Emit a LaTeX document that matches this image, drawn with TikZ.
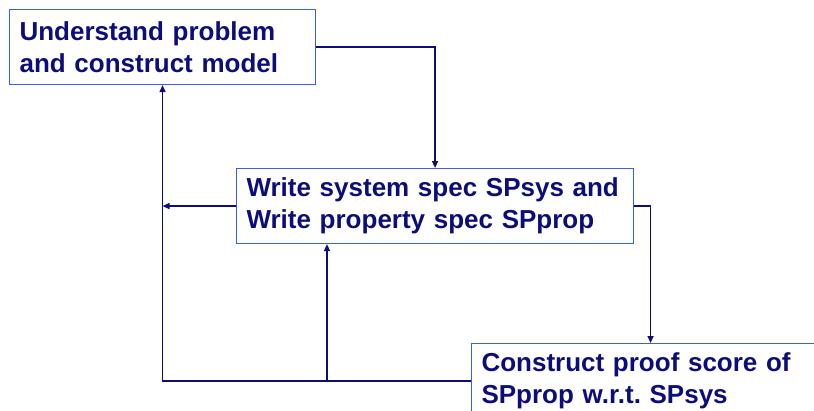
\documentclass[tikz,border=0pt]{standalone}
\usepackage{fontspec}
\setmainfont{Liberation Sans}
\usetikzlibrary{arrows.meta}
\definecolor{navy}{HTML}{0C0C7A}
\definecolor{boxblue}{HTML}{3A5CF0}
\frenchspacing
\begin{document}
\begin{tikzpicture}[x=1pt,y=-1pt,
  stepbox/.style={draw=boxblue,line width=1.1pt,anchor=north west,inner xsep=10pt,inner ysep=0pt,
    minimum height=75pt,align=left,text=navy,
    font=\fontsize{26}{32}\selectfont\bfseries},
  conn/.style={draw=navy,line width=1.4pt},
  arr/.style={conn,-{Triangle[length=7pt,width=6pt]}}]
\useasboundingbox (0,0) rectangle (814,410);
\clip (0,0) rectangle (814,410);
\node[stepbox,minimum width=306pt,text width=286pt] (b1) at (9,9) {Understand problem\\and construct model};
\node[stepbox,minimum width=397pt,text width=377pt] (b2) at (236,168) {Write system spec SPsys and\\Write property spec SPprop};
\node[stepbox,minimum width=358pt,text width=338pt] (b3) at (471,343) {Construct proof score of\\SPprop w.r.t. SPsys};
\coordinate (j) at (327,0);
\draw[arr] (b1.east) -| (b2.north);
\draw[arr] (b2.west) -- (b2.west -| b1.south);
\draw[arr] (b2.east) -| (b3.north);
\draw[arr] (b3.west) -| (b1.south);
\draw[arr] (b3.west -| j) -- (b2.south -| j);
\end{tikzpicture}
\end{document}
